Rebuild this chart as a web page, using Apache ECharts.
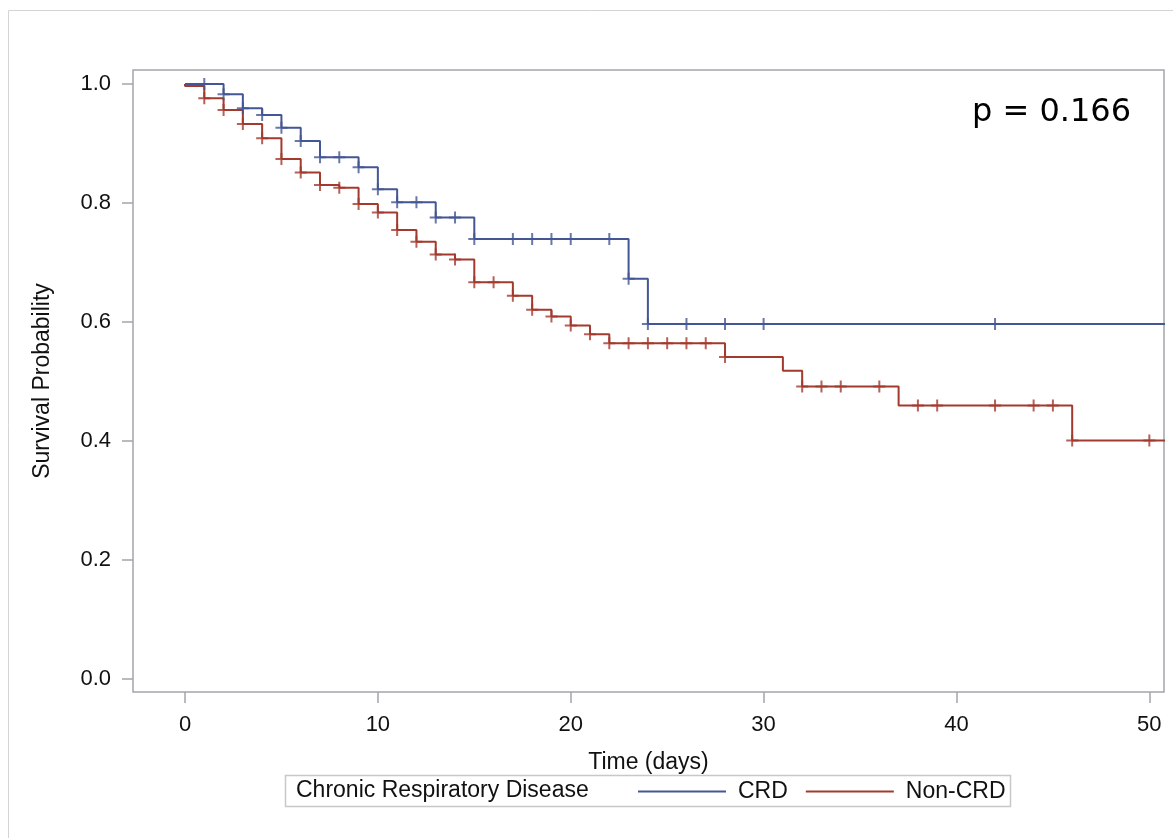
<!DOCTYPE html>
<html><head><meta charset="utf-8">
<script src="https://cdn.jsdelivr.net/npm/echarts@6/dist/echarts.min.js"></script>
<style>html,body{margin:0;padding:0;background:#fff}#c{width:1173px;height:838px}</style>
</head><body><div id="c"></div>
<script>
// ---- data ----
const crdTimes = [0, 2, 3, 4, 5, 6, 7, 9, 10, 11, 13, 15, 23, 24, 51];
const crdSurv  = [1.0, 0.9827, 0.9592, 0.9479, 0.9266, 0.9042, 0.8768, 0.860, 0.823, 0.801, 0.7753, 0.7395, 0.6723, 0.5966, 0.5966];
const crdCensorTimes = [1, 2, 3, 4, 5, 6, 7, 8, 9, 10, 11, 12, 13, 14, 15, 17, 18, 19, 20, 22, 23, 24, 26, 28, 30, 42];

const nonTimes = [0, 0, 1, 2, 3, 4, 5, 6, 7, 8, 9, 10, 11, 12, 13, 14, 15, 17, 18, 19, 20, 21, 22, 28, 31, 32, 37, 46, 51];
const nonSurv  = [1.0, 0.9966, 0.976, 0.9563, 0.9328, 0.9087, 0.8739, 0.851, 0.830, 0.8257, 0.7983, 0.7837, 0.7546, 0.7345, 0.7134, 0.705, 0.6667, 0.6437, 0.6202, 0.6089, 0.5938, 0.5793, 0.5642, 0.5408, 0.5176, 0.4913, 0.4593, 0.4005, 0.4005];
const nonCensorTimes = [1, 2, 3, 4, 5, 6, 7, 8, 9, 10, 11, 12, 13, 14, 15, 16, 17, 18, 19, 20, 21, 22, 23, 24, 25, 26, 27, 28, 32, 33, 34, 36, 38, 39, 42, 44, 45, 46, 50];

const xTicks = [0, 10, 20, 30, 40, 50];
const yTicks = [0, 0.2, 0.4, 0.6, 0.8, 1.0];
const groupNames = ['CRD', 'Non-CRD'];
const legendTitle = 'Chronic Respiratory Disease';
const pText = 'p = 0.166';

// ---- build ----
function pairs(ts, ss) { return ts.map((t, i) => [t, ss[i]]); }
function survAt(ts, ss, t) {
  let v = ss[0];
  for (let i = 0; i < ts.length; i++) { if (ts[i] <= t) v = ss[i]; }
  return v;
}
const crdCensor = crdCensorTimes.map(t => [t, survAt(crdTimes, crdSurv, t)]);
const nonCensor = nonCensorTimes.map(t => [t, survAt(nonTimes, nonSurv, t)]);

const BLUE = '#445694', RED = '#A23A2E', GRAY = '#a2a6aa';
const FONT = '"Liberation Sans", Arial, sans-serif';
const PLUS = 'path://M5,0H7V5H12V7H7V12H5V7H0V5H5Z';

const chart = echarts.init(document.getElementById('c'), null, {renderer: 'canvas'});
chart.setOption({
  animation: false,
  backgroundColor: '#fff',
  grid: {left: 133, top: 70, right: 9, bottom: 146, show: true, borderColor: GRAY, borderWidth: 1.5, backgroundColor: 'transparent', containLabel: false, outerBoundsMode: 'none'},
  xAxis: {
    type: 'value', min: -2.696, max: 50.76,
    name: 'Time (days)', nameLocation: 'middle', nameGap: 59,
    nameTextStyle: {fontFamily: FONT, fontSize: 23, color: '#111'},
    axisLine: {show: false, onZero: false},
    axisTick: {show: true, customValues: xTicks, length: 11, lineStyle: {color: GRAY, width: 1.5}},
    axisLabel: {customValues: xTicks, margin: 22, fontFamily: FONT, fontSize: 22, color: '#111'},
    splitLine: {show: false}
  },
  yAxis: {
    type: 'value', min: -0.0224, max: 1.0235,
    name: 'Survival Probability', nameLocation: 'middle', nameGap: 79,
    nameTextStyle: {fontFamily: FONT, fontSize: 23, color: '#111'},
    axisLine: {show: false, onZero: false},
    axisTick: {show: true, customValues: yTicks, length: 11, lineStyle: {color: GRAY, width: 1.5}},
    axisLabel: {customValues: yTicks, margin: 22, fontFamily: FONT, fontSize: 22, color: '#111', formatter: v => v.toFixed(1)},
    splitLine: {show: false}
  },
  legend: {
    data: groupNames, left: 633, top: 775, icon: 'rect', itemWidth: 88, itemHeight: 2, itemGap: 18,
    textStyle: {fontFamily: FONT, fontSize: 23, color: '#111', padding: [0, 0, 0, 7]}
  },
  graphic: [
    {type: 'rect', silent: true, z: -10, shape: {x: 8.5, y: 10.5, width: 1200, height: 900}, style: {fill: 'none', stroke: '#d4d4d4', lineWidth: 1}},
    {type: 'rect', silent: true, z: -5, shape: {x: 285.5, y: 775.5, width: 725, height: 31}, style: {fill: '#fff', stroke: '#c8c8c8', lineWidth: 1.5}},
    {type: 'text', silent: true, x: 296, y: 791, style: {text: legendTitle, font: '23px ' + FONT, fill: '#111', verticalAlign: 'middle', align: 'left'}},
    {type: 'text', silent: true, x: 972, y: 113, style: {text: pText, font: '32px "DejaVu Sans", sans-serif', fill: '#000', verticalAlign: 'middle', align: 'left'}}
  ],
  series: [
    {name: groupNames[0], type: 'line', step: 'end', data: pairs(crdTimes, crdSurv), showSymbol: false, color: BLUE, lineStyle: {color: BLUE, width: 2}, z: 3},
    {name: groupNames[1], type: 'line', step: 'end', data: pairs(nonTimes, nonSurv), showSymbol: false, color: RED, lineStyle: {color: RED, width: 2}, z: 2},
    {name: 'CRD censored', type: 'scatter', data: crdCensor, symbol: PLUS, symbolSize: 12, itemStyle: {color: BLUE}, z: 4},
    {name: 'Non-CRD censored', type: 'scatter', data: nonCensor, symbol: PLUS, symbolSize: 12, itemStyle: {color: RED}, z: 3}
  ]
});
</script></body></html>
